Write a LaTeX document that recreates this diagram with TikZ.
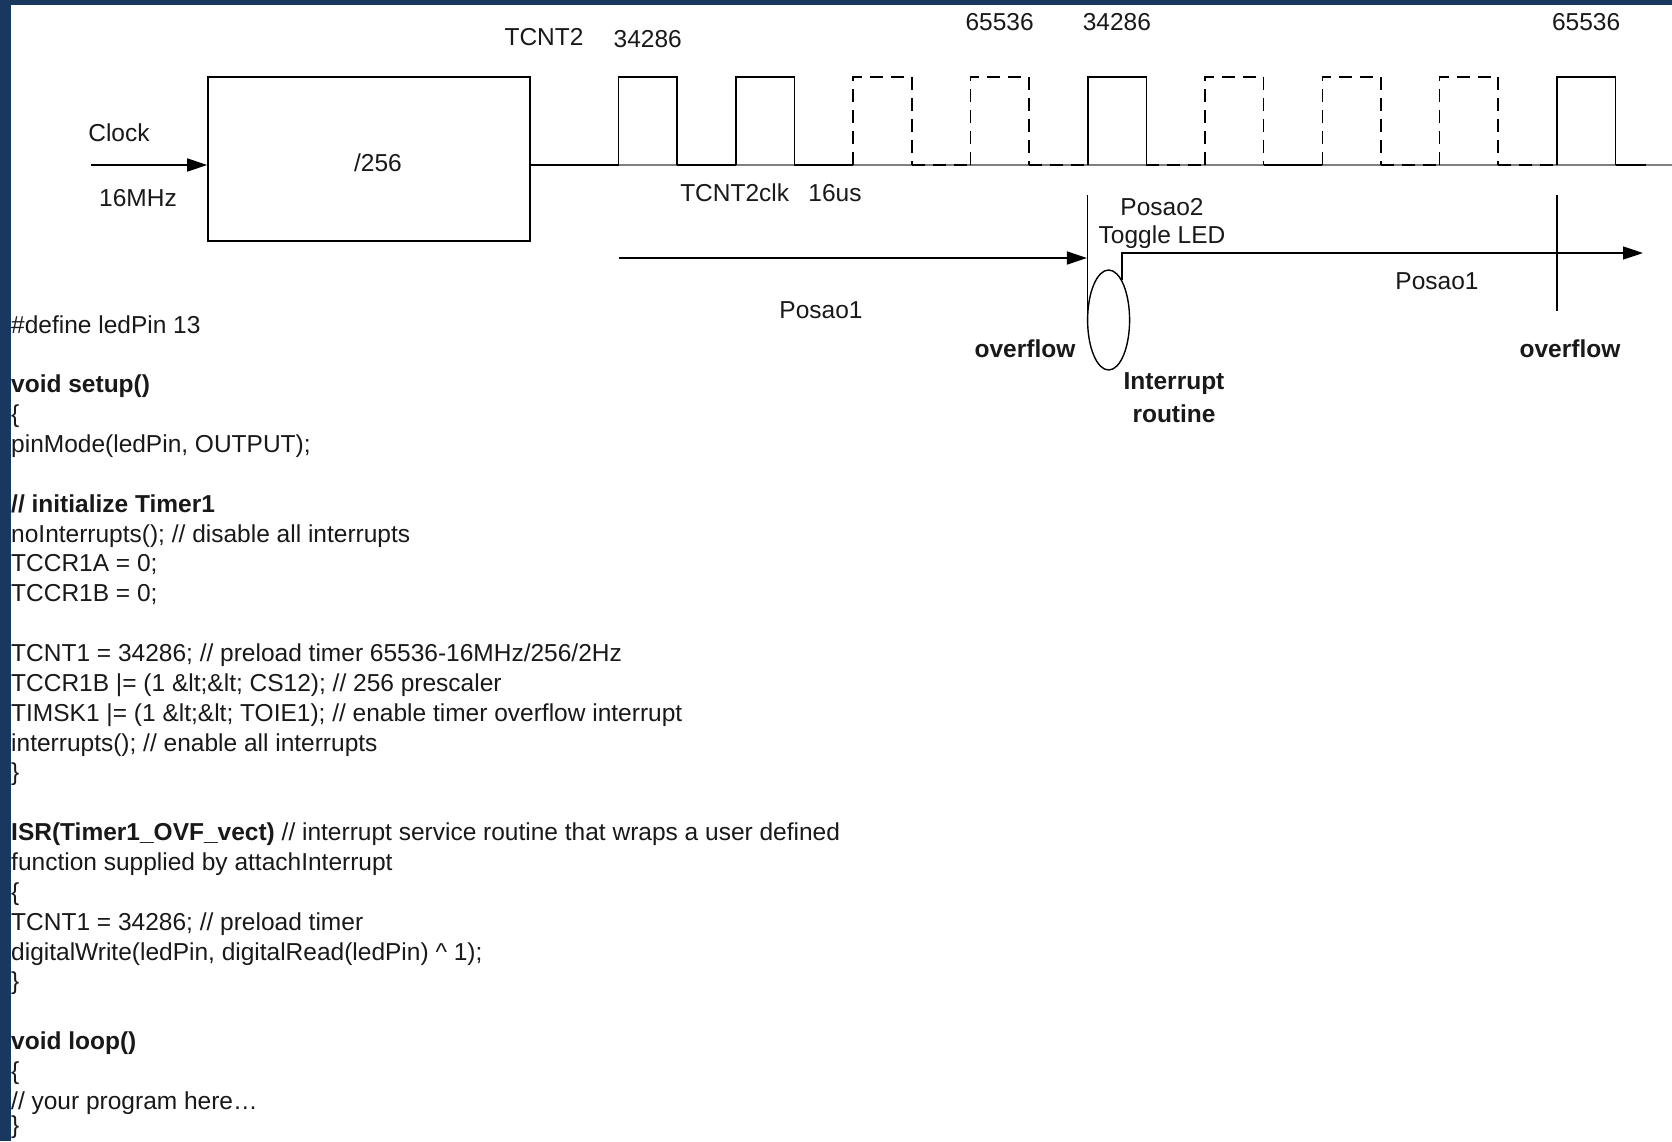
\documentclass[tikz,border=0pt]{standalone}
\usepackage{fontspec}
\setmainfont{Liberation Sans}
\usetikzlibrary{arrows.meta,shapes.geometric,positioning}
\definecolor{framebar}{RGB}{24,56,96}

\begin{document}
\begin{tikzpicture}[x=1pt,y=-1pt,
  font=\fontsize{24.5}{29.86}\selectfont,
  sig/.style={line width=1.6pt},
  broken/.style={dash pattern=on 13pt off 8pt},
  tip/.style={-{Triangle[length=20pt,width=13pt]}},
  lbl/.style={inner sep=0pt,text=black!90},
  boldlbl/.style={inner sep=0pt,text=black!90,font=\fontsize{24.5}{29.86}\selectfont\bfseries},
  codeline/.style={anchor=base west,inner sep=0pt,text=black!90}]

% Page and frame
\fill[white] (0,0) rectangle (1672,1141);
\useasboundingbox (0,0) rectangle (1672,1141);
\fill[framebar] (0,0) rectangle (1672,5);
\fill[framebar] (0,0) rectangle (11,1141);

% Prescaler
\coordinate (clk) at (91,165);
\node[draw,sig,minimum width=322pt,minimum height=164pt,inner sep=0pt] (div) at (369,159) {};
\node[lbl] (ratio) at (378,163) {/256};
\draw[sig,tip] (clk) -- (clk -| div.west);
\node[lbl] (clock) at (119,133) {Clock};
\node[lbl] (mhz) at (138,198) {16MHz};

% Timer clock pulses
\draw[line width=1.2pt,black!50] (clk -| div.east) -- (1672,165);
\draw[sig] (clk -| div.east) -- (618.5,165);
\foreach \k/\kind in {0/solid,1/solid,2/broken,3/broken,4/solid,5/broken,6/broken,7/broken,8/solid}{
  \coordinate (p\k) at ({618.5+117.3*\k},165);
  \coordinate (q\k) at ({677.1+117.3*\k},165);
  \draw[sig,\kind] (p\k) -- ++(0,-88) -- ++(58.6,0) -- ++(0,88);
}
\foreach \a/\b/\kind in {0/1/solid,1/2/solid,2/3/broken,3/4/broken,4/5/broken,5/6/solid,6/7/broken,7/8/broken}
  \draw[sig,\kind] (q\a) -- (p\b);
\draw[sig] (q8) -- ++(30,0);

% Counter values
\node[lbl] (tcnt) at (544,37) {TCNT2};
\node[lbl] (v0) at (647.8,39.5) {34286};
\node[lbl] (v3) at (999.6,22.4) {65536};
\node[lbl] (v4) at (1116.9,22.4) {34286};
\node[lbl] (v8) at (1586.1,22.4) {65536};
\node[lbl] (tclk) at (734.7,193) {TCNT2clk};
\node[lbl] (tus) at (835,193) {16us};

% Overflow and interrupt
\coordinate (ovA) at (1087.6,195);
\coordinate (ovB) at (1556.8,195);
\coordinate (ovBend) at (1556.8,311);
\node[draw,ellipse,line width=1.4pt,minimum width=42pt,minimum height=100pt,inner sep=0pt] (isr) at (1108.6,320) {};
\draw[sig] (ovA) -- (ovA |- isr.west);
\coordinate (runA) at (618.5,258);
\draw[sig,tip] (runA) -- (runA -| isr.west);
\coordinate (runB) at (1643,253);
\draw[sig,tip] (isr.72) |- (runB);
\draw[sig] (ovB) -- (ovBend);

\node[lbl] (pos2) at (1162,207) {Posao2};
\node[lbl] (led) at (1162,237) {Toggle LED};
\node[lbl] (pos1a) at (821,310) {Posao1};
\node[lbl] (pos1b) at (1437,281.5) {Posao1};
\node[boldlbl] (ovfa) at (1025,349) {overflow};
\node[boldlbl] (ovfb) at (1570,349) {overflow};
\node[boldlbl] (intr) at (1174,384) {Interrupt};
\node[boldlbl] (rout) at (1174,414) {routine};

% Sketch code
\foreach \n/\txt in {
  0/{\#define ledPin 13},
  2/{\textbf{void setup()}},
  3/{\{},
  4/{pinMode(ledPin, OUTPUT);},
  6/{\textbf{// initialize Timer1}},
  7/{noInterrupts(); // disable all interrupts},
  8/{TCCR1A = 0;},
  9/{TCCR1B = 0;},
  11/{TCNT1 = 34286; // preload timer 65536-16MHz/256/2Hz},
  12/{TCCR1B |= (1 \&lt;\&lt; CS12); // 256 prescaler},
  13/{TIMSK1 |= (1 \&lt;\&lt; TOIE1); // enable timer overflow interrupt},
  14/{interrupts(); // enable all interrupts},
  15/{\}},
  17/{\textbf{ISR(Timer1\_OVF\_vect)} // interrupt service routine that wraps a user defined},
  18/{function supplied by attachInterrupt},
  19/{\{},
  20/{TCNT1 = 34286; // preload timer},
  21/{digitalWrite(ledPin, digitalRead(ledPin) \textasciicircum{} 1);},
  22/{\}},
  24/{\textbf{void loop()}},
  25/{\{},
  26/{// your program here…}}
  \node[codeline] (code\n) at (11,{333+29.86*\n}) {\txt};
\node[codeline] (code27) at (11,1133) {\}};

\end{tikzpicture}
\end{document}
